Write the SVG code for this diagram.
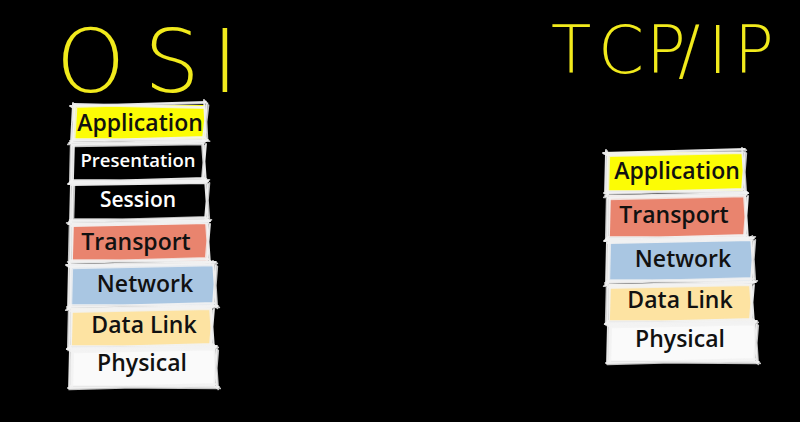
<svg xmlns="http://www.w3.org/2000/svg" width="800" height="422" viewBox="0 0 800 422">
<style>
.hand{font-family:"DejaVu Sans","Liberation Sans",sans-serif;font-weight:200;fill:#f1ea1c}
.lbl{font-family:"Open Sans","Noto Sans","Liberation Sans",sans-serif;font-weight:600;font-size:23px;text-anchor:middle;fill:#111}
.wt{fill:#fff}
.sk{fill:none;stroke:#f2f2f2;stroke-width:1.8;stroke-linecap:round;opacity:0.95}
.sk2{fill:none;stroke:#b8b8b8;stroke-width:1.2;stroke-linecap:round;opacity:0.85}
.y{fill:#fcfc05}.k{fill:#000}.s{fill:#e9846e}.b{fill:#a9c6e2}.c{fill:#fde3a2}.w{fill:#fafafa}
</style>
<rect width="800" height="422" fill="#000"/>
<text class="hand" font-size="88" x="56 144 212" y="92">OSI</text>
<text class="hand" font-size="66" x="551 598 646 678 708 734" y="73">TCP/IP</text>
<g id="osi-application"><rect class="y" x="73" y="105" width="132" height="34"/>
<path id="p1" class="sk" d="M70,106 L206,102 M74,104 L204,107 M72,139 L208,140 M70,141 L205,137 M73,103 L71,141 M75,106 L73,139 M204,100 L206,140 M207,104 L203,138"/>
<use href="#p1" class="sk2" transform="translate(1.5,1.2)"/>
<text class="lbl" x="140" y="131">Application</text></g>
<g id="osi-presentation"><rect class="k" x="72" y="143" width="132" height="37"/>
<path id="p2" class="sk" d="M69,143 L206,141 M73,145 L204,143 M71,180 L208,181 M70,182 L205,178 M72,141 L71,182 M74,144 L73,180 M203,140 L206,182 M206,144 L203,179"/>
<use href="#p2" class="sk2" transform="translate(-1.2,1.4)"/>
<text class="lbl wt" x="138" y="167" style="font-size:18.5px">Presentation</text></g>
<g id="osi-session"><rect class="k" x="71" y="183" width="135" height="37"/>
<path id="p3" class="sk" d="M68,184 L208,181 M72,185 L206,183 M70,220 L210,221 M69,222 L207,218 M71,181 L70,222 M73,184 L72,220 M205,180 L208,222 M208,184 L205,219"/>
<use href="#p3" class="sk2" transform="translate(1.4,-1.2)"/>
<text class="lbl wt" x="138" y="207" style="font-size:21px">Session</text></g>
<g id="osi-transport"><rect class="s" x="72" y="223" width="136" height="38"/>
<path id="p4" class="sk" d="M68,224 L210,221 M72,226 L208,223 M70,261 L212,262 M69,263 L209,259 M71,221 L70,263 M73,224 L72,261 M207,220 L210,263 M210,224 L207,260"/>
<use href="#p4" class="sk2" transform="translate(-1.3,-1.1)"/>
<text class="lbl" x="136" y="250">Transport</text></g>
<g id="osi-network"><rect class="b" x="70" y="264" width="144" height="41"/>
<path id="p5" class="sk" d="M66,265 L216,262 M70,267 L214,264 M68,305 L218,306 M67,307 L215,303 M69,262 L68,307 M71,265 L70,305 M213,261 L216,307 M216,265 L213,304"/>
<use href="#p5" class="sk2" transform="translate(1.3,1.3)"/>
<text class="lbl" x="145" y="292">Network</text></g>
<g id="osi-datalink"><rect class="c" x="71" y="308" width="141" height="38"/>
<path id="p6" class="sk" d="M67,309 L214,306 M71,311 L212,308 M69,346 L216,347 M68,348 L213,344 M70,306 L69,348 M72,309 L71,346 M211,305 L214,348 M214,309 L211,345"/>
<use href="#p6" class="sk2" transform="translate(-1.2,1.2)"/>
<text class="lbl" x="144" y="333">Data Link</text></g>
<g id="osi-physical"><rect class="w" x="71" y="348" width="144" height="38"/>
<path id="p7" class="sk" d="M67,349 L217,346 M71,351 L215,348 M69,386 L219,387 M68,388 L216,384 M70,346 L69,388 M72,349 L71,386 M214,345 L217,388 M217,349 L214,385"/>
<use href="#p7" class="sk2" transform="translate(1.2,1.4)"/>
<text class="lbl" x="142" y="371">Physical</text></g>
<g id="tcp-application"><rect class="y" x="607" y="152" width="136" height="39"/>
<path id="q1" class="sk" d="M603,153 L745,149 M607,155 L743,152 M605,191 L747,192 M604,193 L744,189 M606,150 L605,193 M608,153 L607,191 M742,148 L745,193 M745,152 L742,190"/>
<use href="#q1" class="sk2" transform="translate(1.3,1.2)"/>
<text class="lbl" x="677" y="179">Application</text></g>
<g id="tcp-transport"><rect class="s" x="609" y="195" width="137" height="42"/>
<path id="q2" class="sk" d="M605,196 L748,193 M609,198 L746,195 M607,237 L750,238 M606,239 L747,235 M608,193 L607,239 M610,196 L609,237 M745,192 L748,239 M748,196 L745,236"/>
<use href="#q2" class="sk2" transform="translate(-1.2,1.3)"/>
<text class="lbl" x="674" y="223">Transport</text></g>
<g id="tcp-network"><rect class="b" x="608" y="240" width="144" height="41"/>
<path id="q3" class="sk" d="M604,241 L754,238 M608,243 L752,240 M606,281 L756,282 M605,283 L753,279 M607,238 L606,283 M609,241 L608,281 M751,237 L754,283 M754,241 L751,280"/>
<use href="#q3" class="sk2" transform="translate(1.3,-1.2)"/>
<text class="lbl" x="683" y="267">Network</text></g>
<g id="tcp-datalink"><rect class="c" x="609" y="284" width="143" height="37"/>
<path id="q4" class="sk" d="M605,285 L754,282 M609,287 L752,284 M607,321 L756,322 M606,323 L753,319 M608,282 L607,323 M610,285 L609,321 M751,281 L754,323 M754,285 L751,320"/>
<use href="#q4" class="sk2" transform="translate(-1.3,1.2)"/>
<text class="lbl" x="680" y="308">Data Link</text></g>
<g id="tcp-physical"><rect class="w" x="609" y="323" width="146" height="38"/>
<path id="q5" class="sk" d="M605,324 L757,321 M609,326 L755,323 M607,361 L759,362 M606,363 L756,359 M608,321 L607,363 M610,324 L609,361 M754,320 L757,363 M757,324 L754,360"/>
<use href="#q5" class="sk2" transform="translate(1.2,1.3)"/>
<text class="lbl" x="680" y="347">Physical</text></g>
<g id="connectors"></g>
</svg>
